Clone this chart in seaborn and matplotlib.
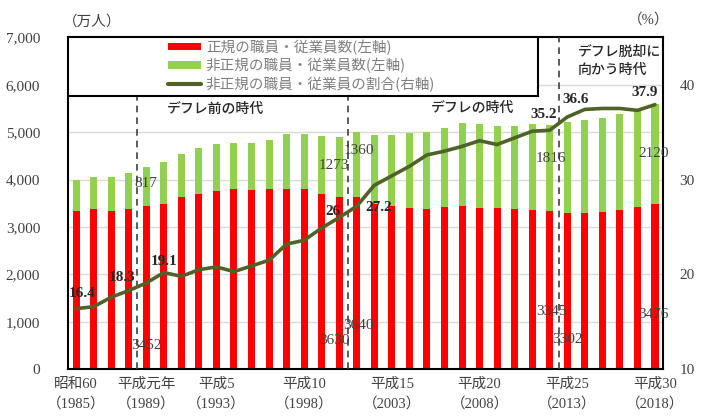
"""
Regular vs non-regular employees, 1985-2018 (stacked bars + ratio line).
"""

import matplotlib
matplotlib.use("Agg")
import matplotlib.pyplot as plt
from matplotlib.lines import Line2D
from matplotlib.patches import Patch, Rectangle
import numpy as np
import pandas as pd
import seaborn as sns

# ── data ──
years = list(range(1985, 2019))
regular = [3343, 3383, 3337, 3377, 3452, 3488, 3639, 3705, 3756, 3805,
           3779, 3800, 3812, 3794, 3688, 3630, 3640, 3489, 3444, 3410,
           3375, 3415, 3449, 3410, 3395, 3374, 3352, 3345, 3302, 3288,
           3317, 3367, 3423, 3476]
non_regular = [655, 673, 711, 755, 817, 881, 897, 958, 986, 971,
               1001, 1043, 1152, 1173, 1225, 1273, 1360, 1451, 1504, 1564,
               1634, 1678, 1735, 1765, 1727, 1763, 1812, 1816, 1910, 1967,
               1986, 2023, 2036, 2120]
ratio = [16.4, 16.6, 17.6, 18.3, 19.1, 20.2, 19.8, 20.5, 20.8, 20.3,
         20.9, 21.5, 23.2, 23.6, 24.9, 26.0, 27.2, 29.4, 30.4, 31.4,
         32.6, 33.0, 33.5, 34.1, 33.7, 34.4, 35.1, 35.2, 36.6, 37.4,
         37.5, 37.5, 37.3, 37.9]

tick_years = [1985, 1989, 1993, 1998, 2003, 2008, 2013, 2018]
tick_labels = ["昭和60\n（1985）", "平成元年\n（1989）", "平成5\n（1993）",
               "平成10\n（1998）", "平成15\n（2003）", "平成20\n（2008）",
               "平成25\n（2013）", "平成30\n（2018）"]

# which years get value labels
ratio_label_years = [1985, 1988, 1989, 2000, 2001, 2012, 2013, 2018]
count_label_years = [1989, 2000, 2001, 2012, 2013, 2018]

df = pd.DataFrame({"year": years, "regular": regular,
                   "non_regular": non_regular, "ratio": ratio})
df["total"] = df["regular"] + df["non_regular"]
df["pos"] = np.arange(len(df))

RED = "#FF0000"
GREEN = "#92D050"
OLIVE = "#4F6228"
JP = ["Noto Sans CJK JP", "DejaVu Sans"]
SERIF = ["Liberation Serif", "Noto Sans CJK JP"]

sns.set_style("white")
plt.rcParams["font.family"] = JP

fig = plt.figure(figsize=(7.04, 4.16), dpi=100)
ax = fig.add_axes([0.0966, 0.1122, 0.845, 0.7981])

# stacked bars: total (green) then regular (red) on top of it
sns.barplot(data=df, x="pos", y="total", color=GREEN, saturation=1,
            width=0.4, ax=ax, native_scale=True, linewidth=0)
sns.barplot(data=df, x="pos", y="regular", color=RED, saturation=1,
            width=0.4, ax=ax, native_scale=True, linewidth=0)

ax.set_xlim(-0.46, 33.45)
ax.set_ylim(0, 7000)
ax.set_yticks(range(0, 7001, 1000))
ax.set_yticklabels([f"{v:,}" for v in range(0, 7001, 1000)],
                   family=SERIF, fontsize=11, color="#404040")
ax.yaxis.grid(True, color="#d9d9d9", linewidth=1)
ax.set_axisbelow(True)
ax.tick_params(axis="y", length=0, pad=20)

pos_of = {y: p for y, p in zip(years, df["pos"])}
ax.set_xticks([pos_of[y] for y in tick_years])
ax.set_xticklabels(tick_labels, family=SERIF, fontsize=10.5,
                   color="#404040", linespacing=1.5)
ax.tick_params(axis="x", length=0, pad=6)
ax.set_xlabel("")
ax.set_ylabel("")
for s in ax.spines.values():
    s.set_visible(True)
    s.set_color("black")
    s.set_linewidth(1.5)

# ratio line on right axis
ax2 = ax.twinx()
sns.lineplot(data=df, x="pos", y="ratio", color=OLIVE, linewidth=2.6, ax=ax2)
ax2.set_ylim(10, 45)
ax2.set_yticks([10, 20, 30, 40])
ax2.set_yticklabels(["10", "20", "30", "40"], family=SERIF, fontsize=11,
                    color="#404040")
ax2.tick_params(axis="y", length=0, pad=12)
ax2.set_ylabel("")
ax2.set_xlim(-0.46, 33.45)
for s in ax2.spines.values():
    s.set_visible(False)

# era dividers
dash = (0, (4, 3))
ax.vlines([pos_of[1988] + 0.5, pos_of[2000] + 0.5], 0, 5760,
          colors="#404040", linestyles=dash, linewidth=1.2, zorder=5)
ax.vlines(pos_of[2012] + 0.5, 0, 7000, colors="#404040",
          linestyles=dash, linewidth=1.2, zorder=5)

ax.text(pos_of[1989] + 1.2, 5480, "デフレ前の時代", fontsize=10,
        fontweight="medium", va="center")
ax.text(pos_of[2005] + 0.2, 5500, "デフレの時代", fontsize=10,
        fontweight="medium", va="center")
ax.text(pos_of[2013] + 0.6, 6500, "デフレ脱却に\n向かう時代", fontsize=10,
        fontweight="medium", va="center", linespacing=1.4)

# ratio labels
ratio_offsets = {1985: (0.37, 1.55), 1988: (-0.37, 1.34), 1989: (1.0, 2.26),
                 2000: (-0.34, 0.64), 2001: (1.25, -0.17), 2012: (-0.34, 1.65),
                 2013: (0.5, 1.84), 2018: (-0.6, 1.28)}
for y in ratio_label_years:
    r = float(df.loc[df.year == y, "ratio"].iloc[0])
    dx, dy = ratio_offsets[y]
    txt = f"{r:.1f}" if r != int(r) else f"{int(r)}"
    ax2.text(pos_of[y] + dx, r + dy, txt, family=SERIF, fontsize=11,
             fontweight="bold", ha="center", va="center", zorder=6)

# count labels (plain numbers)
reg_label_y = {1989: 500, 2000: 600, 2001: 930, 2012: 1210, 2013: 620,
               2018: 1160}
non_label_y = {1989: 3920, 2000: 4290, 2001: 4620, 2012: 4450, 2013: None,
               2018: 4540}
lab_dx = {1989: 0.0, 2000: -0.3, 2001: 0.1, 2012: 0.07, 2013: 0.0, 2018: -0.1}
for y in count_label_years:
    row = df.loc[df.year == y].iloc[0]
    ax.text(pos_of[y] + lab_dx[y], reg_label_y[y], f"{int(row.regular)}",
            family=SERIF, fontsize=11, color="#404040", ha="center",
            va="center", zorder=6)
    if non_label_y[y] is not None:
        ax.text(pos_of[y] + lab_dx[y], non_label_y[y],
                f"{int(row.non_regular)}", family=SERIF, fontsize=11,
                color="#404040", ha="center", va="center", zorder=6)

# unit labels
fig.text(0.089, 0.947, "（万人）", fontsize=10.5, color="#404040",
         family=SERIF, va="center")
fig.text(0.892, 0.952, "（%）", fontsize=10.5, color="#404040",
         family=SERIF, va="center")

# legend box: frame drawn separately, entries sit right of its left edge
box = Rectangle((0, 0.822), 0.79, 0.178, transform=ax.transAxes,
                facecolor="white", edgecolor="black", linewidth=1.5,
                zorder=9)
ax.add_patch(box)
handles = [Patch(facecolor=RED, edgecolor="none"),
           Patch(facecolor=GREEN, edgecolor="none"),
           Line2D([0], [0], color=OLIVE, linewidth=3)]
labels = ["正規の職員・従業員数(左軸)", "非正規の職員・従業員数(左軸)",
          "非正規の職員・従業員の割合(右軸)"]
leg = ax.legend(handles, labels, loc="upper left",
                bbox_to_anchor=(0.168, 0.994), fontsize=10.5,
                frameon=False, handlelength=2.3, handleheight=0.45,
                handletextpad=0.3, labelspacing=0.22, borderpad=0,
                borderaxespad=0, labelcolor="#7f7f7f")
leg.set_zorder(10)

fig.savefig("out.png", dpi=100)
plt.close(fig)
